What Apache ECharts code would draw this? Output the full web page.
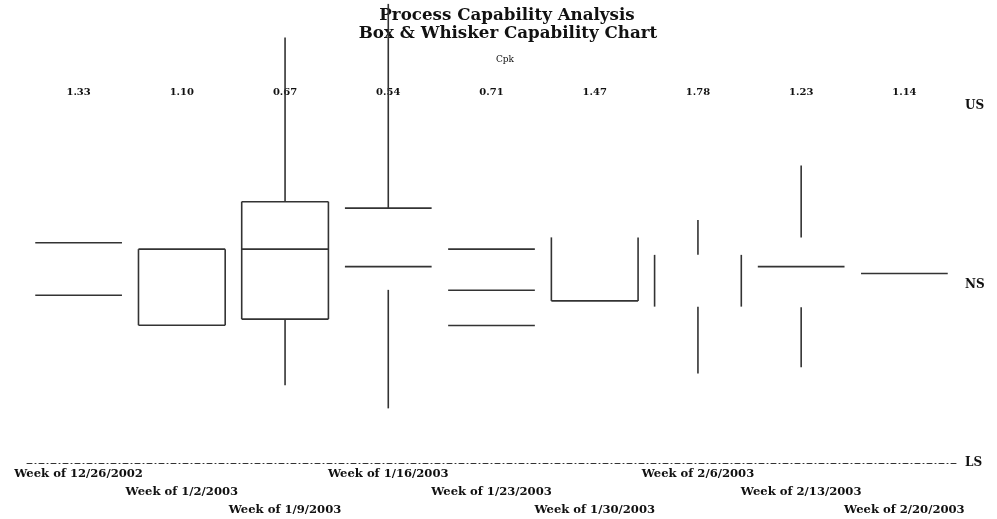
<!DOCTYPE html>
<html>
<head>
<meta charset="utf-8">
<script src="https://cdn.jsdelivr.net/npm/echarts@6/dist/echarts.min.js"></script>
<style>
  html, body { margin: 0; padding: 0; background: #fff; }
  #chart { width: 997px; height: 519px; }
</style>
</head>
<body>
<div id="chart"></div>
<script>
var weeks = ['Week of 12/26/2002', 'Week of 1/2/2003', 'Week of 1/9/2003', 'Week of 1/16/2003',
    'Week of 1/23/2003', 'Week of 1/30/2003', 'Week of 2/6/2003', 'Week of 2/13/2003', 'Week of 2/20/2003'];
var cpk = ['1.33', '1.10', '0.67', '0.54', '0.71', '1.47', '1.78', '1.23', '1.14'];

// spec scale: LS = 0, NS = 50, US = 100
var whiskerHigh = [null, null, 119.2, 128.6, null, null, 68.1, 83.3, null];
var q3 = [61.7, 59.9, 73.2, 71.4, 59.9, 63.2, 58.3, 63.2, null];
var median = [null, null, 59.9, 55.0, 48.4, null, null, 55.0, 53.1];
var q1 = [47.0, 38.6, 40.3, 48.5, 38.5, 45.4, 43.8, 43.6, null];
var whiskerLow = [null, null, 21.8, 15.3, null, null, 25.1, 26.8, null];
// parts of each box that show up: T top, B bottom, S sides, M median, W whiskers
var drawn = ['TB', 'TBS', 'TBSMW', 'TMW', 'TMB', 'SB', 'SW', 'MW', 'M'];
var specLabels = { 0: 'LS', 50: 'NS', 100: 'US' };

var serif = 'DejaVu Serif';
var chart = echarts.init(document.getElementById('chart'));

function renderBox(params, api) {
    var i = params.dataIndex;
    var parts = drawn[i];
    var half = api.size([1, 0])[0] * 0.42;
    var cx = api.coord([i, 0])[0];
    var y = function (v) { return api.coord([i, v])[1]; };
    var kids = [];
    function seg(x1, y1, x2, y2) {
        kids.push({
            type: 'line',
            shape: { x1: x1, y1: y1, x2: x2, y2: y2 },
            style: { stroke: '#333', lineWidth: 1.6 }
        });
    }
    if (parts.indexOf('T') >= 0) seg(cx - half, y(q3[i]), cx + half, y(q3[i]));
    if (parts.indexOf('B') >= 0) seg(cx - half, y(q1[i]), cx + half, y(q1[i]));
    if (parts.indexOf('S') >= 0) {
        seg(cx - half, y(q3[i]), cx - half, y(q1[i]));
        seg(cx + half, y(q3[i]), cx + half, y(q1[i]));
    }
    if (parts.indexOf('M') >= 0) seg(cx - half, y(median[i]), cx + half, y(median[i]));
    if (parts.indexOf('W') >= 0) {
        seg(cx, y(q3[i]), cx, y(whiskerHigh[i]));
        seg(cx, y(q1[i]), cx, y(whiskerLow[i]));
    }
    return { type: 'group', children: kids };
}

var option = {
    animation: false,
    backgroundColor: '#fff',
    graphic: [
        { type: 'text', x: 507, y: 16, style: { text: 'Process Capability Analysis', textAlign: 'center', textVerticalAlign: 'middle', font: 'bold 16.7px "DejaVu Serif"', fill: '#111' } },
        { type: 'text', x: 508, y: 34, style: { text: 'Box & Whisker Capability Chart', textAlign: 'center', textVerticalAlign: 'middle', font: 'bold 16.7px "DejaVu Serif"', fill: '#111' } },
        { type: 'text', x: 505, y: 60, style: { text: 'Cpk', textAlign: 'center', textVerticalAlign: 'middle', font: '9px "DejaVu Serif"', fill: '#111' } }
    ],
    grid: { left: 27, right: 41, top: 106, bottom: 56 },
    xAxis: [{
        type: 'category',
        position: 'bottom',
        data: weeks,
        axisLine: { show: true, lineStyle: { color: '#333', width: 1, type: [5, 3, 1, 3] } },
        axisTick: { show: false },
        axisLabel: {
            interval: 0,
            margin: 2,
            lineHeight: 18,
            fontFamily: serif,
            fontSize: 11.6,
            fontWeight: 'bold',
            color: '#111',
            formatter: function (v, i) { return ['', '\n', '\n\n'][i % 3] + v; }
        }
    }, {
        type: 'category',
        position: 'top',
        data: cpk,
        axisLine: { show: false },
        axisTick: { show: false },
        axisLabel: { interval: 0, margin: 9, fontFamily: serif, fontSize: 10, fontWeight: 'bold', color: '#111' }
    }],
    yAxis: {
        type: 'value',
        position: 'right',
        min: 0,
        max: 100,
        interval: 50,
        axisLine: { show: false },
        axisTick: { show: false },
        splitLine: { show: false },
        axisLabel: {
            margin: 9,
            fontFamily: serif,
            fontSize: 12,
            fontWeight: 'bold',
            color: '#111',
            formatter: function (v) { return specLabels[v] || ''; }
        }
    },
    series: [{
        type: 'custom',
        clip: false,
        renderItem: renderBox,
        data: weeks.map(function (w, i) { return [i, 0]; })
    }]
};
chart.setOption(option);
</script>
</body>
</html>
